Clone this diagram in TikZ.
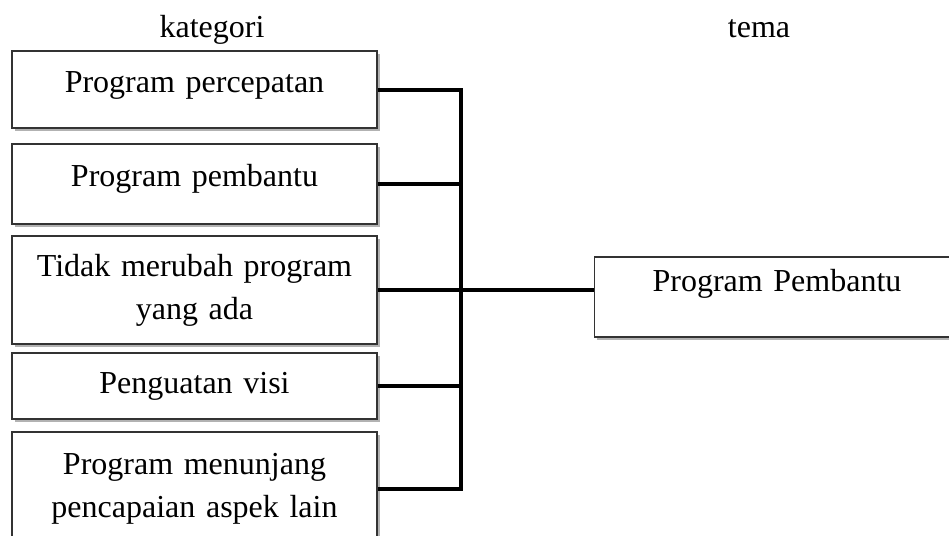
\documentclass[tikz,border=0pt]{standalone}
\usepackage{fontspec}
\setmainfont{Liberation Serif}
\usetikzlibrary{positioning,shadows}

\begin{document}
\begin{tikzpicture}[x=0.5pt, y=-0.5pt,
      cat/.style={draw=black!80, line width=0.6pt, fill=white, align=center,
                  text width=172pt, minimum width=182.5pt, inner sep=2pt,
                  font=\fontsize{16}{21.5}\selectfont,
                  drop shadow={shadow xshift=1.3pt, shadow yshift=-1.3pt,
                               opacity=0.3, fill=black}},
      head/.style={font=\fontsize{16}{21.5}\selectfont, anchor=base},
      link/.style={line width=2pt}]
    \useasboundingbox (0,0) rectangle (949,536);
    % judul kolom
    \node[head] (hkat) at (212,37) {kategori};
    \node[head] (htema) at (759,37) {tema};
    % kotak kategori
    \node[cat, minimum height=38.5pt, text depth=7pt] (k1) at (194.5,89.5) {Program percepatan};
    \node[cat, minimum height=40pt, text depth=8.5pt] (k2) at (194.5,184) {Program pembantu};
    \node[cat, minimum height=54pt] (k3) at (194.5,290) {Tidak merubah program\\ yang ada};
    \node[cat, minimum height=33pt] (k4) at (194.5,386) {Penguatan visi};
    \node[cat, minimum height=57pt] (k5) at (194.5,489) {Program menunjang\\ pencapaian aspek lain};
    % kotak tema
    \node[cat, minimum height=40pt, text depth=16.5pt] (t1) at (777,297) {Program Pembantu};
    % penghubung
    \coordinate (hub) at ([xshift=41.5pt]k3.east);
    \draw[link] (k1.east) -| (hub) |- (k5.east);
    \draw[link] (k2.east) -- (k2.east -| hub);
    \draw[link] (k3.east) -- (hub);
    \draw[link] (k4.east) -- (k4.east -| hub);
    \draw[link] (hub) -- (hub -| t1.west);
  \end{tikzpicture}
\end{document}
